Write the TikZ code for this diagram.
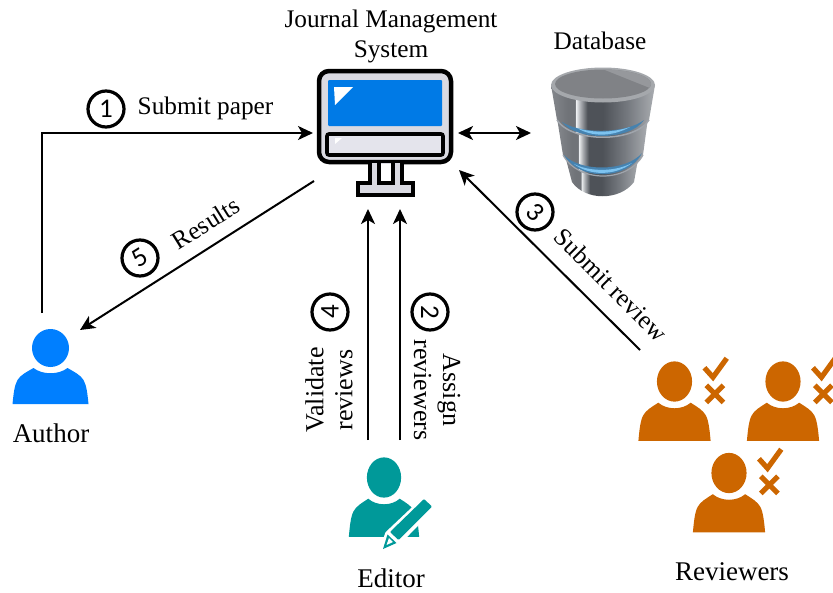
\documentclass[tikz,border=0pt]{standalone}
\usepackage{fontspec}
\setmainfont{Liberation Serif}
\newfontfamily\digitfont{Carlito}
\usetikzlibrary{arrows.meta,calc}
\definecolor{authorblue}{RGB}{0,127,255}
\definecolor{editorteal}{RGB}{0,153,153}
\definecolor{revorange}{RGB}{204,102,0}
\definecolor{screenblue}{RGB}{0,122,230}
\definecolor{monfill}{RGB}{218,218,226}
\definecolor{barfill}{RGB}{228,228,236}
\definecolor{dbA}{RGB}{132,135,140}
\definecolor{dbB}{RGB}{112,115,120}
\definecolor{dbS}{RGB}{240,242,244}
\definecolor{dbT}{RGB}{175,178,182}
\definecolor{dbC}{RGB}{78,82,88}
\definecolor{dbD}{RGB}{118,122,128}
\definecolor{dbE}{RGB}{170,173,177}
\definecolor{dbRim}{RGB}{160,165,172}
\definecolor{dbTop}{RGB}{165,168,172}
\definecolor{dbIn}{RGB}{128,130,134}
\definecolor{dbWedge}{RGB}{150,152,156}
\definecolor{glowA}{RGB}{70,130,175}
\definecolor{glowB}{RGB}{125,195,240}
\pgfdeclarehorizontalshading{dbshade}{100bp}{
  color(0bp)=(dbA); color(25bp)=(dbA); color(33bp)=(dbB); color(36.5bp)=(dbB);
  color(37bp)=(dbS); color(39bp)=(dbT); color(42.5bp)=(dbC); color(50bp)=(dbC);
  color(62bp)=(dbD); color(75bp)=(dbE); color(100bp)=(dbE)}
\tikzset{
  x=1pt,y=-1pt,
  lbl/.style={font=\fontsize{25.3}{30}\selectfont,inner sep=0pt,align=center},
  biglbl/.style={font=\fontsize{27}{30}\selectfont,inner sep=0pt,align=center},
  midlbl/.style={font=\fontsize{26}{29}\selectfont,inner sep=0pt,align=center},
  conn/.style={line width=2pt,-{Stealth[length=15pt,width=14pt,inset=4pt]}},
  dconn/.style={line width=2pt,{Stealth[length=15pt,width=14pt,inset=4pt]}-{Stealth[length=15pt,width=14pt,inset=4pt]}},
  numc/.style={circle,draw,line width=3.2pt,minimum size=36pt,inner sep=0pt,font=\fontsize{27}{27}\selectfont\digitfont},
  person/.pic={
    \fill (0,0) ellipse [x radius=18.5,y radius=19];
    \fill (-38,56) .. controls (-37,46) and (-36,37) .. (-33,32)
      .. controls (-30,27) and (-24,24) .. (-17,20)
      .. controls (-8,27) and (8,27) .. (17,20)
      .. controls (24,24) and (30,27) .. (33,32)
      .. controls (36,37) and (37,46) .. (38,56) -- cycle;
  },
  marks/.pic={
    \draw[line width=5.2pt,line join=miter] (31.5,-15) -- (40.5,-5) -- (55,-25);
    \draw[line width=5.2pt] (33.5,3.5) -- (51.5,21.5) (51.5,3.5) -- (33.5,21.5);
  },
}
\begin{document}
\begin{tikzpicture}
\useasboundingbox (0,0) rectangle (833,592);
\clip (0,0) rectangle (833,592);

% Monitor
\draw[line width=4.5pt,fill=monfill,rounded corners=10pt] (319,71) rectangle (451,162);
\fill[screenblue,rounded corners=1pt] (328,80) rectangle (442,126);
\fill[white] (334,87) -- (353,87) -- (335,105) -- cycle;
\draw[line width=3.6pt,fill=barfill,rounded corners=2pt] (327,134) rectangle (443,155);
\fill[white] (335,138) -- (342,138) -- (335,144) -- cycle;
\draw[line width=3.6pt,fill=monfill] (370,163) -- (370,183) -- (358,183) -- (358,195) -- (413,195) -- (413,183) -- (402,183) -- (402,163);
\draw[line width=3.6pt] (379,163) -- (379,183) -- (393,183) -- (393,163);
\fill[white] (381,164) rectangle (391,181);

% Database
\shade[shading=dbshade] (563,148) -- (572,182) .. controls (585,201) and (620,201) .. (634,182) -- (640,148) -- cycle;
\shade[shading=dbshade] (557,118) -- (563,155) .. controls (578,183) and (628,183) .. (643,155) -- (648,118) -- cycle;
\fill[glowA] (564,155) .. controls (580,172) and (626,172) .. (642,153)
  .. controls (628,181) and (578,181) .. (564,155) -- cycle;
\fill[glowB] (574,164) .. controls (590,172) and (615,172) .. (632,163)
  .. controls (615,176) and (590,176) .. (574,164) -- cycle;
\draw[dbRim,line width=1.2pt] (563,155) .. controls (578,183) and (628,183) .. (643,155);
\shade[shading=dbshade] (551,85) -- (557,120) .. controls (572,143) and (634,143) .. (649,120) -- (655,85) -- cycle;
\fill[glowA] (562,122) .. controls (580,134) and (626,134) .. (644,120)
  .. controls (630,141) and (576,141) .. (562,122) -- cycle;
\fill[glowB] (577,128) .. controls (592,133) and (612,133) .. (630,127)
  .. controls (612,137) and (592,137) .. (577,128) -- cycle;
\draw[dbRim,line width=1.5pt] (557,120) .. controls (572,143) and (634,143) .. (649,120);
\fill[dbTop] (603,85) ellipse [x radius=52,y radius=17.5];
\fill[dbIn] (603,84) ellipse [x radius=48,y radius=14.5];
\begin{scope}
  \clip (603,84) ellipse [x radius=48,y radius=14.5];
  \fill[dbWedge] (595,66) -- (655,66) -- (655,90) -- cycle;
\end{scope}

% People
\begin{scope}[shift={(50.5,348)}]
  \pic[authorblue,transform shape] {person};
\end{scope}
\begin{scope}[shift={(384,477.5)},xscale=.925,yscale=1.06]
  \pic[editorteal,transform shape] {person};
\end{scope}
% Pencil
\draw[white,line width=6pt,line join=round,fill=white] (383,549) -- (388,534) -- (424,500) -- (432,507) -- (399,541) -- cycle;
\fill[editorteal,rounded corners=1pt] (390,532) -- (424,499) -- (432,506.5) -- (398.5,540) -- cycle;
\fill[editorteal] (383,549) -- (387.5,534.5) -- (396.5,543) -- cycle;
\fill[white] (386.5,545) -- (389,538) -- (393,542) -- cycle;

\begin{scope}[shift={(674.5,381.5)},xscale=.95,yscale=1.06]
  \pic[revorange,transform shape] {person};
\end{scope}
\begin{scope}[shift={(674.5,382)},scale=.95]
  \pic[draw=revorange,transform shape] {marks};
\end{scope}
\begin{scope}[shift={(783,381.5)},xscale=.95,yscale=1.06]
  \pic[revorange,transform shape] {person};
\end{scope}
\begin{scope}[shift={(783,382)},scale=.95]
  \pic[draw=revorange,transform shape] {marks};
\end{scope}
\begin{scope}[shift={(729,473)},xscale=.95,yscale=1.06]
  \pic[revorange,transform shape] {person};
\end{scope}
\begin{scope}[shift={(729,473)},scale=.95]
  \pic[draw=revorange,transform shape] {marks};
\end{scope}

% Named end points
\coordinate (authorTop) at (42,313);
\coordinate (bend) at (42,133);
\coordinate (jmsLeft) at (313,133);
\coordinate (jmsRight) at (458,133);
\coordinate (dbLeft) at (531,133);
\coordinate (jmsLow) at (314,181);
\coordinate (authorIn) at (80,330);
\coordinate (revOut) at (640,350);
\coordinate (jmsRev) at (459,170);
\coordinate (edA) at (368,440);
\coordinate (jmsA) at (368,209);
\coordinate (edB) at (400,440);
\coordinate (jmsB) at (400,209);

% Connectors
\draw[conn] (authorTop) -- (bend) -- (jmsLeft);
\draw[dconn] (jmsRight) -- (dbLeft);
\draw[conn] (jmsLow) -- (authorIn);
\draw[conn] (revOut) -- (jmsRev);
\draw[conn] (edA) -- (jmsA);
\draw[conn] (edB) -- (jmsB);

% Labels
\node[lbl] (jms) at (391,36) {Journal Management\\System};
\node[lbl] (dbl) at (600,41) {Database};
\node[lbl] (sub) at (205.5,108) {Submit paper};
\node[lbl,rotate=32] (res) at (206,223) {Results};
\node[lbl,rotate=-45] (srv) at (611,285) {Submit review};
\node[midlbl,rotate=90] (val) at (329,390) {Validate\\reviews};
\node[midlbl,rotate=-90] (asg) at (437,390) {Assign\\reviewers};
\node[biglbl] (aut) at (51,433) {Author};
\node[biglbl] (edi) at (391,578) {Editor};
\node[biglbl] (rev) at (732,572) {Reviewers};

\node[numc] (n1) at (106,109) {1};
\node[numc] (n5) at (140,258) {\rotatebox{32}{5}};
\node[numc] (n4) at (330,312) {\rotatebox{90}{4}};
\node[numc] (n2) at (430,312) {\rotatebox{-90}{2}};
\node[numc] (n3) at (535,212) {\rotatebox{-45}{3}};
\end{tikzpicture}
\end{document}
